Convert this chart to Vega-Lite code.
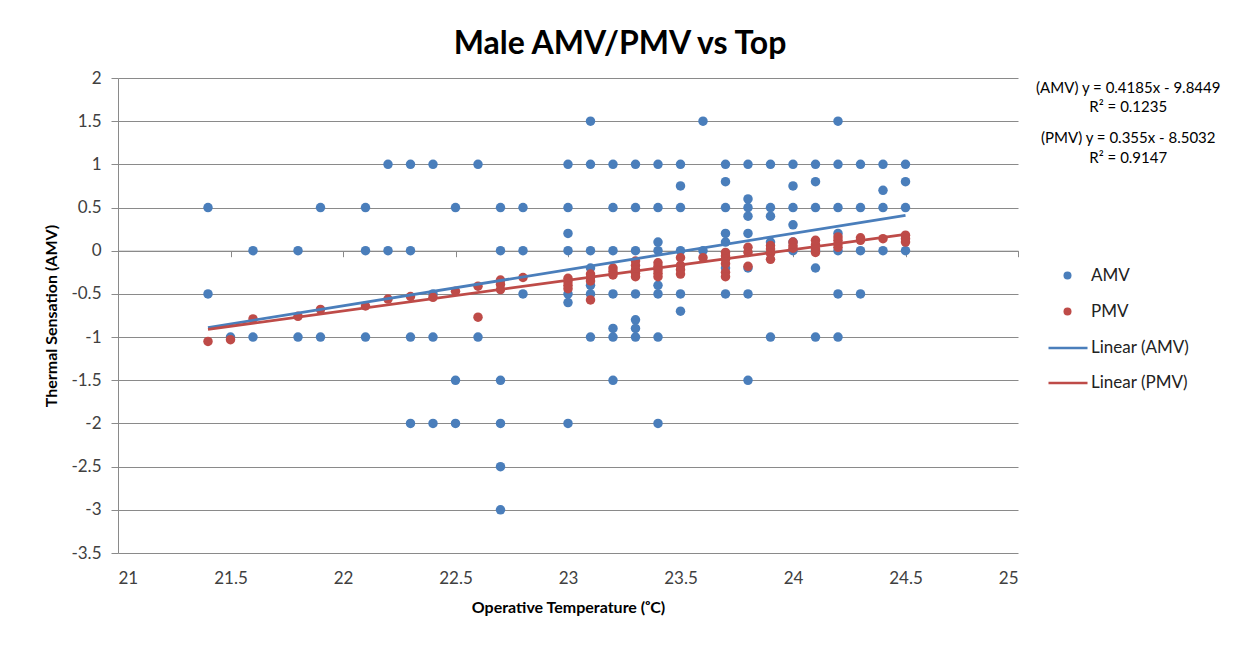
{
  "$schema": "https://vega.github.io/schema/vega-lite/v6.json",
  "width": 900,
  "height": 475,
  "autosize": "none",
  "padding": {"left": 118, "top": 78, "right": 219, "bottom": 96},
  "background": "white",
  "config": {"font": "Lato", "view": {"stroke": null}},
  "title": {"text": "Male AMV/PMV vs Top", "fontSize": 32, "fontWeight": "bold", "font": "Lato", "color": "#000000", "anchor": "middle", "dx": 52, "offset": 8},
  "datasets": {
    "pts": [
      {"t":21.4,"v":0.5,"s":"AMV"},{"t":21.4,"v":-0.5,"s":"AMV"},
      {"t":21.5,"v":-1,"s":"AMV"},
      {"t":21.6,"v":0,"s":"AMV"},{"t":21.6,"v":-1,"s":"AMV"},
      {"t":21.8,"v":0,"s":"AMV"},{"t":21.8,"v":-1,"s":"AMV"},
      {"t":21.9,"v":0.5,"s":"AMV"},{"t":21.9,"v":-1,"s":"AMV"},
      {"t":22.1,"v":0.5,"s":"AMV"},{"t":22.1,"v":0,"s":"AMV"},{"t":22.1,"v":-1,"s":"AMV"},
      {"t":22.2,"v":1,"s":"AMV"},{"t":22.2,"v":0,"s":"AMV"},
      {"t":22.3,"v":1,"s":"AMV"},{"t":22.3,"v":0,"s":"AMV"},{"t":22.3,"v":-1,"s":"AMV"},{"t":22.3,"v":-2,"s":"AMV"},
      {"t":22.4,"v":1,"s":"AMV"},{"t":22.4,"v":-0.5,"s":"AMV"},{"t":22.4,"v":-1,"s":"AMV"},{"t":22.4,"v":-2,"s":"AMV"},
      {"t":22.5,"v":0.5,"s":"AMV"},{"t":22.5,"v":-1.5,"s":"AMV"},{"t":22.5,"v":-2,"s":"AMV"},
      {"t":22.6,"v":1,"s":"AMV"},{"t":22.6,"v":-1,"s":"AMV"},
      {"t":22.7,"v":0.5,"s":"AMV"},{"t":22.7,"v":0,"s":"AMV"},{"t":22.7,"v":-1.5,"s":"AMV"},{"t":22.7,"v":-2,"s":"AMV"},{"t":22.7,"v":-2.5,"s":"AMV"},{"t":22.7,"v":-3,"s":"AMV"},
      {"t":22.8,"v":0.5,"s":"AMV"},{"t":22.8,"v":0,"s":"AMV"},{"t":22.8,"v":-0.5,"s":"AMV"},
      {"t":23.0,"v":1,"s":"AMV"},{"t":23.0,"v":0.5,"s":"AMV"},{"t":23.0,"v":0.2,"s":"AMV"},{"t":23.0,"v":0,"s":"AMV"},{"t":23.0,"v":-0.5,"s":"AMV"},{"t":23.0,"v":-0.6,"s":"AMV"},{"t":23.0,"v":-2,"s":"AMV"},
      {"t":23.1,"v":1.5,"s":"AMV"},{"t":23.1,"v":1,"s":"AMV"},{"t":23.1,"v":0,"s":"AMV"},{"t":23.1,"v":-0.2,"s":"AMV"},{"t":23.1,"v":-0.4,"s":"AMV"},{"t":23.1,"v":-0.5,"s":"AMV"},{"t":23.1,"v":-1,"s":"AMV"},
      {"t":23.2,"v":1,"s":"AMV"},{"t":23.2,"v":0.5,"s":"AMV"},{"t":23.2,"v":0,"s":"AMV"},{"t":23.2,"v":-0.5,"s":"AMV"},{"t":23.2,"v":-0.9,"s":"AMV"},{"t":23.2,"v":-1,"s":"AMV"},{"t":23.2,"v":-1.5,"s":"AMV"},
      {"t":23.3,"v":1,"s":"AMV"},{"t":23.3,"v":0.5,"s":"AMV"},{"t":23.3,"v":0,"s":"AMV"},{"t":23.3,"v":-0.5,"s":"AMV"},{"t":23.3,"v":-0.8,"s":"AMV"},{"t":23.3,"v":-0.9,"s":"AMV"},{"t":23.3,"v":-1,"s":"AMV"},
      {"t":23.4,"v":1,"s":"AMV"},{"t":23.4,"v":0.5,"s":"AMV"},{"t":23.4,"v":0.1,"s":"AMV"},{"t":23.4,"v":0,"s":"AMV"},{"t":23.4,"v":-0.4,"s":"AMV"},{"t":23.4,"v":-0.5,"s":"AMV"},{"t":23.4,"v":-1,"s":"AMV"},{"t":23.4,"v":-2,"s":"AMV"},
      {"t":23.5,"v":1,"s":"AMV"},{"t":23.5,"v":0.75,"s":"AMV"},{"t":23.5,"v":0.5,"s":"AMV"},{"t":23.5,"v":0,"s":"AMV"},{"t":23.5,"v":-0.5,"s":"AMV"},{"t":23.5,"v":-0.7,"s":"AMV"},
      {"t":23.6,"v":1.5,"s":"AMV"},{"t":23.6,"v":0,"s":"AMV"},
      {"t":23.7,"v":1,"s":"AMV"},{"t":23.7,"v":0.8,"s":"AMV"},{"t":23.7,"v":0.5,"s":"AMV"},{"t":23.7,"v":0.2,"s":"AMV"},{"t":23.7,"v":0.1,"s":"AMV"},{"t":23.7,"v":-0.2,"s":"AMV"},{"t":23.7,"v":-0.5,"s":"AMV"},
      {"t":23.8,"v":1,"s":"AMV"},{"t":23.8,"v":0.6,"s":"AMV"},{"t":23.8,"v":0.5,"s":"AMV"},{"t":23.8,"v":0.4,"s":"AMV"},{"t":23.8,"v":0.2,"s":"AMV"},{"t":23.8,"v":-0.2,"s":"AMV"},{"t":23.8,"v":-0.5,"s":"AMV"},{"t":23.8,"v":-1.5,"s":"AMV"},
      {"t":23.9,"v":1,"s":"AMV"},{"t":23.9,"v":0.5,"s":"AMV"},{"t":23.9,"v":0.4,"s":"AMV"},{"t":23.9,"v":0.1,"s":"AMV"},{"t":23.9,"v":-1,"s":"AMV"},
      {"t":24.0,"v":1,"s":"AMV"},{"t":24.0,"v":0.75,"s":"AMV"},{"t":24.0,"v":0.5,"s":"AMV"},{"t":24.0,"v":0.3,"s":"AMV"},{"t":24.0,"v":0.1,"s":"AMV"},{"t":24.0,"v":0,"s":"AMV"},
      {"t":24.1,"v":1,"s":"AMV"},{"t":24.1,"v":0.8,"s":"AMV"},{"t":24.1,"v":0.5,"s":"AMV"},{"t":24.1,"v":0,"s":"AMV"},{"t":24.1,"v":-0.2,"s":"AMV"},{"t":24.1,"v":-1,"s":"AMV"},
      {"t":24.2,"v":1.5,"s":"AMV"},{"t":24.2,"v":1,"s":"AMV"},{"t":24.2,"v":0.5,"s":"AMV"},{"t":24.2,"v":0.2,"s":"AMV"},{"t":24.2,"v":0,"s":"AMV"},{"t":24.2,"v":-0.5,"s":"AMV"},{"t":24.2,"v":-1,"s":"AMV"},
      {"t":24.3,"v":1,"s":"AMV"},{"t":24.3,"v":0.5,"s":"AMV"},{"t":24.3,"v":0,"s":"AMV"},{"t":24.3,"v":-0.5,"s":"AMV"},
      {"t":24.4,"v":1,"s":"AMV"},{"t":24.4,"v":0.7,"s":"AMV"},{"t":24.4,"v":0.5,"s":"AMV"},{"t":24.4,"v":0,"s":"AMV"},
      {"t":24.5,"v":1,"s":"AMV"},{"t":24.5,"v":0.8,"s":"AMV"},{"t":24.5,"v":0.5,"s":"AMV"},{"t":24.5,"v":0,"s":"AMV"},
      {"t":21.4,"v":-1.05,"s":"PMV"},
      {"t":21.5,"v":-1.03,"s":"PMV"},
      {"t":21.6,"v":-0.79,"s":"PMV"},
      {"t":21.8,"v":-0.76,"s":"PMV"},
      {"t":21.9,"v":-0.68,"s":"PMV"},
      {"t":22.1,"v":-0.64,"s":"PMV"},
      {"t":22.2,"v":-0.56,"s":"PMV"},
      {"t":22.3,"v":-0.53,"s":"PMV"},
      {"t":22.4,"v":-0.54,"s":"PMV"},
      {"t":22.5,"v":-0.47,"s":"PMV"},
      {"t":22.6,"v":-0.41,"s":"PMV"},{"t":22.6,"v":-0.77,"s":"PMV"},
      {"t":22.7,"v":-0.34,"s":"PMV"},{"t":22.7,"v":-0.39,"s":"PMV"},{"t":22.7,"v":-0.45,"s":"PMV"},
      {"t":22.8,"v":-0.31,"s":"PMV"},
      {"t":23.0,"v":-0.32,"s":"PMV"},{"t":23.0,"v":-0.36,"s":"PMV"},{"t":23.0,"v":-0.4,"s":"PMV"},{"t":23.0,"v":-0.44,"s":"PMV"},
      {"t":23.1,"v":-0.27,"s":"PMV"},{"t":23.1,"v":-0.31,"s":"PMV"},{"t":23.1,"v":-0.35,"s":"PMV"},{"t":23.1,"v":-0.57,"s":"PMV"},
      {"t":23.2,"v":-0.2,"s":"PMV"},{"t":23.2,"v":-0.24,"s":"PMV"},{"t":23.2,"v":-0.28,"s":"PMV"},
      {"t":23.3,"v":-0.12,"s":"PMV"},{"t":23.3,"v":-0.17,"s":"PMV"},{"t":23.3,"v":-0.22,"s":"PMV"},{"t":23.3,"v":-0.26,"s":"PMV"},{"t":23.3,"v":-0.3,"s":"PMV"},
      {"t":23.4,"v":-0.14,"s":"PMV"},{"t":23.4,"v":-0.18,"s":"PMV"},{"t":23.4,"v":-0.22,"s":"PMV"},{"t":23.4,"v":-0.26,"s":"PMV"},{"t":23.4,"v":-0.3,"s":"PMV"},
      {"t":23.5,"v":-0.08,"s":"PMV"},{"t":23.5,"v":-0.17,"s":"PMV"},{"t":23.5,"v":-0.22,"s":"PMV"},{"t":23.5,"v":-0.27,"s":"PMV"},
      {"t":23.6,"v":-0.08,"s":"PMV"},
      {"t":23.7,"v":-0.02,"s":"PMV"},{"t":23.7,"v":-0.06,"s":"PMV"},{"t":23.7,"v":-0.1,"s":"PMV"},{"t":23.7,"v":-0.15,"s":"PMV"},{"t":23.7,"v":-0.25,"s":"PMV"},{"t":23.7,"v":-0.3,"s":"PMV"},
      {"t":23.8,"v":0.04,"s":"PMV"},{"t":23.8,"v":-0.02,"s":"PMV"},{"t":23.8,"v":-0.18,"s":"PMV"},
      {"t":23.9,"v":0.06,"s":"PMV"},{"t":23.9,"v":0.02,"s":"PMV"},{"t":23.9,"v":-0.03,"s":"PMV"},{"t":23.9,"v":-0.1,"s":"PMV"},
      {"t":24.0,"v":0.1,"s":"PMV"},{"t":24.0,"v":0.06,"s":"PMV"},{"t":24.0,"v":0.03,"s":"PMV"},
      {"t":24.1,"v":0.12,"s":"PMV"},{"t":24.1,"v":0.07,"s":"PMV"},{"t":24.1,"v":0.02,"s":"PMV"},{"t":24.1,"v":-0.02,"s":"PMV"},
      {"t":24.2,"v":0.16,"s":"PMV"},{"t":24.2,"v":0.12,"s":"PMV"},{"t":24.2,"v":0.08,"s":"PMV"},{"t":24.2,"v":0.04,"s":"PMV"},
      {"t":24.3,"v":0.15,"s":"PMV"},{"t":24.3,"v":0.12,"s":"PMV"},
      {"t":24.4,"v":0.14,"s":"PMV"},
      {"t":24.5,"v":0.18,"s":"PMV"},{"t":24.5,"v":0.14,"s":"PMV"},{"t":24.5,"v":0.1,"s":"PMV"}
    ],
    "trend": [
      {"t":21.4,"v":-0.89,"s":"Linear (AMV)"},{"t":24.5,"v":0.41,"s":"Linear (AMV)"},
      {"t":21.4,"v":-0.91,"s":"Linear (PMV)"},{"t":24.5,"v":0.19,"s":"Linear (PMV)"}
    ],
    "eqA": [{"txt":"(AMV) y = 0.4185x - 9.8449\nR² = 0.1235"}],
    "eqP": [{"txt":"(PMV) y = 0.355x - 8.5032\nR² = 0.9147"}]
  },
  "layer": [
    {
      "data": {"name": "pts"},
      "mark": {"type": "point", "filled": true, "size": 90, "opacity": 1},
      "encoding": {
        "x": {"field": "t", "type": "quantitative",
              "scale": {"domain": [21, 25], "nice": false, "zero": false},
              "axis": {"orient": "bottom", "values": [21, 21.5, 22, 22.5, 23, 23.5, 24, 24.5, 25],
                       "labelExpr": "'' + datum.value", "domain": false, "ticks": false, "grid": false,
                       "labelPadding": 17, "labelFontSize": 17, "labelColor": "#404040", "labelFont": "Lato",
                       "title": "Operative Temperature (ᵒC)", "titleFontSize": 16, "titleFontWeight": "bold",
                       "titleColor": "#000000", "titleFont": "Lato", "titlePadding": 13}},
        "y": {"field": "v", "type": "quantitative",
              "scale": {"domain": [-3.5, 2], "nice": false, "zero": false},
              "axis": {"values": [-3.5, -3, -2.5, -2, -1.5, -1, -0.5, 0, 0.5, 1, 1.5, 2],
                       "labelExpr": "'' + datum.value", "grid": true, "gridColor": "#8a8a8a", "gridWidth": 1,
                       "domain": true, "domainColor": "#8a8a8a", "ticks": true, "tickColor": "#8a8a8a", "tickSize": 7,
                       "labelPadding": 10, "labelFontSize": 17, "labelColor": "#404040", "labelFont": "Lato",
                       "title": "Thermal Sensation (AMV)", "titleFontSize": 16, "titleFontWeight": "bold",
                       "titleColor": "#000000", "titleFont": "Lato", "titlePadding": 11}},
        "color": {"field": "s", "type": "nominal",
                  "scale": {"domain": ["AMV", "PMV"], "range": ["#4a7ebb", "#be4b48"]},
                  "legend": {"orient": "none", "legendX": 941, "legendY": 189, "title": null,
                             "labelFontSize": 17, "labelColor": "#222222", "labelFont": "Lato",
                             "symbolType": "circle", "symbolSize": 64, "symbolStrokeWidth": 0,
                             "labelOffset": 15, "rowPadding": 18}}
      }
    },
    {
      "data": {"name": "trend"},
      "mark": {"type": "line", "strokeWidth": 2.8},
      "encoding": {
        "x": {"field": "t", "type": "quantitative",
              "axis": {"orient": "top", "offset": -172.7, "values": [21, 21.5, 22, 22.5, 23, 23.5, 24, 24.5, 25],
                       "labels": false, "grid": false, "domain": true, "domainColor": "#8a8a8a",
                       "ticks": true, "tickColor": "#8a8a8a", "tickSize": -6, "title": null}},
        "y": {"field": "v", "type": "quantitative"},
        "stroke": {"field": "s", "type": "nominal",
                   "scale": {"domain": ["Linear (AMV)", "Linear (PMV)"], "range": ["#4a7ebb", "#be4b48"]},
                   "legend": {"orient": "none", "legendX": 929, "legendY": 249, "title": null,
                              "labelFontSize": 17, "labelColor": "#222222", "labelFont": "Lato",
                              "symbolType": "stroke", "symbolSize": 1521, "symbolStrokeWidth": 2.5,
                              "labelOffset": 2, "rowPadding": 6}}
      }
    },
    {
      "data": {"name": "eqA"},
      "mark": {"type": "text", "align": "center", "baseline": "middle", "lineBreak": "\n", "fontSize": 15, "font": "Lato", "color": "#000000", "lineHeight": 19},
      "encoding": {
        "x": {"datum": 25.49, "type": "quantitative", "axis": null},
        "y": {"datum": 1.885, "type": "quantitative"},
        "text": {"field": "txt"}
      }
    },
    {
      "data": {"name": "eqP"},
      "mark": {"type": "text", "align": "center", "baseline": "middle", "lineBreak": "\n", "fontSize": 15, "font": "Lato", "color": "#000000", "lineHeight": 20},
      "encoding": {
        "x": {"datum": 25.49, "type": "quantitative", "axis": null},
        "y": {"datum": 1.3, "type": "quantitative"},
        "text": {"field": "txt"}
      }
    }
  ],
  "resolve": {"axis": {"x": "independent"}}
}
